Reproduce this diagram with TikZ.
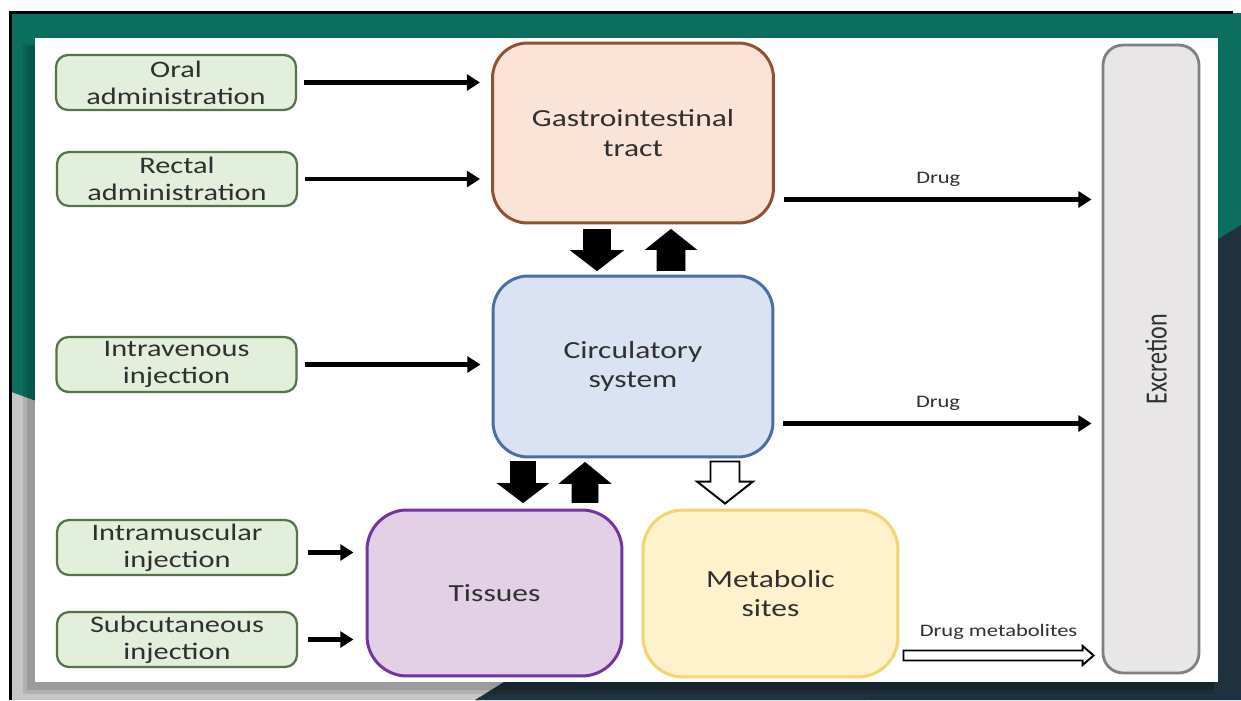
\documentclass[tikz,border=0pt]{standalone}
\usepackage{fontspec}
\setmainfont{Carlito}[FakeStretch=1.28]
\newfontfamily\uprightfont{Carlito}
\usetikzlibrary{calc,arrows.meta}

\definecolor{bandteal}{HTML}{0B6E5F}
\definecolor{bandslate}{HTML}{1F313C}
\definecolor{bandgray}{HTML}{C6C6C6}
\definecolor{txt}{HTML}{303030}
\definecolor{srcfill}{HTML}{E2EFDA}
\definecolor{srcline}{HTML}{56734A}
\definecolor{gifill}{HTML}{FBE4D6}
\definecolor{giline}{HTML}{8E5230}
\definecolor{circfill}{HTML}{DAE3F3}
\definecolor{circline}{HTML}{4A6EA8}
\definecolor{tisfill}{HTML}{E3CFE6}
\definecolor{tisline}{HTML}{7434A0}
\definecolor{metfill}{HTML}{FFF2CC}
\definecolor{metline}{HTML}{F2D66C}
\definecolor{excfill}{HTML}{E8E6E6}
\definecolor{excline}{HTML}{808080}

% block arrow from #2 to #3: style #1, shaft half-width #4, head half-width #5, head length #6
\newcommand\blockarr[6]{%
  \coordinate (ba-h) at ($(#3)!#6!(#2)$);
  \filldraw[#1] ($(#2)!#4!90:(#3)$) -- ($(ba-h)!#4!90:(#3)$) -- ($(ba-h)!#5!90:(#3)$) -- (#3)
    -- ($(ba-h)!#5!-90:(#3)$) -- ($(ba-h)!#4!-90:(#3)$) -- ($(#2)!#4!-90:(#3)$) -- cycle;}

\begin{document}
\begin{tikzpicture}[x=0.02cm, y=-0.02cm,
  src/.style={draw=srcline, fill=srcfill, line width=1.3pt, rounded corners=0.24cm,
    minimum width=4.8cm, minimum height=1.1cm, align=center, text=txt, inner sep=0pt,
    font=\fontsize{13.5}{15.3}\selectfont},
  organ/.style={line width=1.7pt, rounded corners=0.7cm, align=center, text=txt,
    inner sep=0pt, font=\fontsize{14}{16.6}\selectfont},
  arr/.style={line width=2.6pt, -{Triangle[length=7.5pt,width=9pt]}},
  lbl/.style={text=txt, font=\fontsize{10}{12}\selectfont, inner sep=1pt},
  solidblk/.style={fill=black, draw=black, line width=0.5pt, line join=miter},
  hollowblk/.style={fill=white, draw=black, line width=1.1pt, line join=miter}]
\useasboundingbox (0,0) rectangle (1241,700);

% slide background
\fill[white] (0,0) rectangle (1241,700);
\fill[bandteal] (11,13) rectangle (1241,700);
\fill[bandgray] (11,392) -- (866,700) -- (11,700) -- cycle;
\fill[bandslate] (1241,225) -- (475,700) -- (1241,700) -- cycle;
\fill[black, opacity=0.10] (23,44) rectangle (1214,694);
\fill[black, opacity=0.12] (27,46) rectangle (1214,690);
\fill[white] (35,38) rectangle (1218,682);
\draw[black, line width=1.2pt] (10.5,700) -- (10.5,12.5) -- (1233,12.5);

% administration routes
\node[src] (oral) at (176,82.5) {Oral\\administration};
\node[src, minimum height=1.08cm] (rectal) at (177,179) {Rectal\\administration};
\node[src] (iv) at (176.5,364.5) {Intravenous\\injection};
\node[src] (im) at (177,547.5) {Intramuscular\\injection};
\node[src] (sc) at (177,639.5) {Subcutaneous\\injection};

% compartments
\node[organ, draw=giline, fill=gifill, minimum width=5.62cm, minimum height=3.6cm]
  (gi) at (633,133) {Gastrointestinal\\tract};
\node[organ, draw=circline, fill=circfill, minimum width=5.6cm, minimum height=3.62cm]
  (circ) at (633,366.5) {Circulatory\\system};
\node[organ, draw=tisline, fill=tisfill, rounded corners=0.8cm, minimum width=5.1cm,
  minimum height=3.32cm] (tis) at (494.5,593) {Tissues};
\node[organ, draw=metline, fill=metfill, rounded corners=0.8cm, minimum width=5.1cm,
  minimum height=3.34cm] (met) at (770.5,593.5) {Metabolic\\sites};
\node[draw=excline, fill=excfill, line width=1.6pt, rounded corners=0.4cm,
  minimum width=1.92cm, minimum height=12.56cm, inner sep=0pt, text=txt] (exc) at (1151,359)
  {\hspace{0.2cm}\rotatebox{90}{\scalebox{1}[1.28]{\uprightfont\fontsize{13.7}{16}\selectfont Excretion}}};

% routes into the body
\draw[arr, shorten <=0.14cm, shorten >=0.22cm] (oral.east) -- (oral.east -| gi.west);
\draw[arr, shorten <=0.14cm, shorten >=0.22cm] (rectal.east) -- (rectal.east -| gi.west);
\draw[arr, shorten <=0.14cm, shorten >=0.22cm] (iv.east) -- (iv.east -| circ.west);
\draw[arr, shorten <=0.2cm, shorten >=0.24cm] ($(im.east)+(0,5)$) -- ($(im.east -| tis.west)+(0,5)$);
\draw[arr, shorten <=0.2cm, shorten >=0.24cm] (sc.east) -- (sc.east -| tis.west);

% elimination
\draw[arr, shorten <=0.18cm, shorten >=0.2cm] ($(gi.south east)+(0,-25)$) -- ($(gi.south east -| exc.west)+(0,-25)$)
  node[lbl, midway, above=5pt] {Drug};
\draw[arr, shorten <=0.18cm, shorten >=0.2cm] ($(circ.south east)+(0,-35)$) -- ($(circ.south east -| exc.west)+(0,-35)$)
  node[lbl, midway, above=5pt] {Drug};
\coordinate (m1) at ($(met.south east)+(4,-23)$);
\coordinate (m2) at ($(met.south east -| exc.west)+(-8,-23)$);
\blockarr{hollowblk}{m1}{m2}{0.1cm}{0.19cm}{0.22cm}
\path (m1) -- (m2) node[lbl, midway, above=8pt] {Drug metabolites};

% exchange between compartments
\coordinate (a1) at ($(gi.south)+(-36,5)$);
\coordinate (a2) at ($(circ.north)+(-36,-4)$);
\blockarr{solidblk}{a1}{a2}{0.27cm}{0.52cm}{0.4cm}
\coordinate (b1) at ($(circ.north)+(38,-4)$);
\coordinate (b2) at ($(gi.south)+(38,5)$);
\blockarr{solidblk}{b1}{b2}{0.28cm}{0.5cm}{0.4cm}
\coordinate (c1) at ($(circ.south)+(-110,3)$);
\coordinate (c2) at ($(tis.north)+(28.5,-6)$);
\blockarr{solidblk}{c1}{c2}{0.25cm}{0.5cm}{0.38cm}
\coordinate (e1) at ($(tis.north)+(90.5,-6)$);
\coordinate (e2) at ($(circ.south)+(-48,4)$);
\blockarr{solidblk}{e1}{e2}{0.26cm}{0.51cm}{0.42cm}
\coordinate (f1) at ($(circ.south)+(92,3)$);
\coordinate (f2) at ($(met.north)+(-45.5,-5)$);
\blockarr{hollowblk}{f1}{f2}{0.29cm}{0.56cm}{0.44cm}
\end{tikzpicture}
\end{document}
